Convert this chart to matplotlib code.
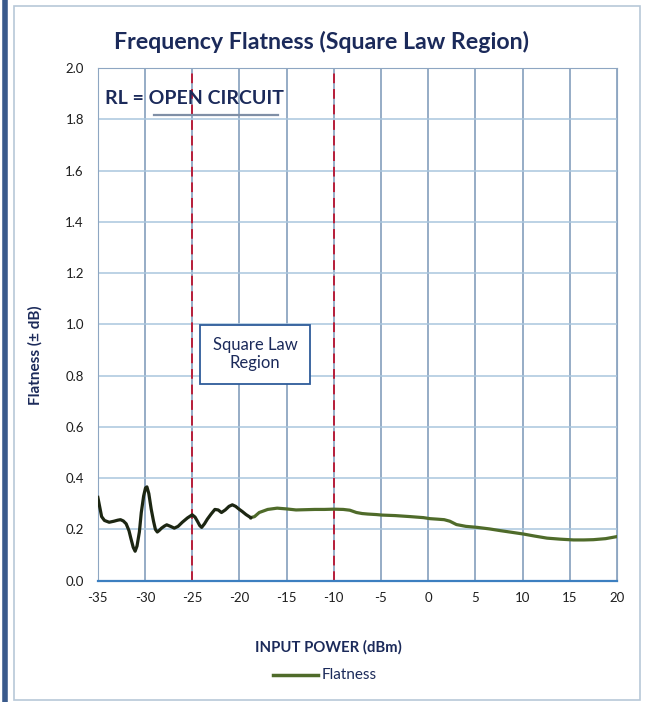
import matplotlib
matplotlib.use('Agg')
from matplotlib import pyplot as plt
from matplotlib.patches import Rectangle
from matplotlib.lines import Line2D

plt.rcParams['font.family'] = ['Lato', 'DejaVu Sans']

# 数据：点
input_power = [-35.0, -34.6, -34.3, -33.8, -33.3, -32.9, -32.6, -32.3, -32.0, -31.7, -31.5,
               -31.25, -31.05, -30.85, -30.6, -30.4, -30.15, -29.95, -29.8, -29.6, -29.35,
               -29.1, -28.9, -28.7, -28.5, -28.25, -27.95, -27.7, -27.3, -26.9, -26.5,
               -26.05, -25.5, -25.0, -24.7, -24.45, -24.2, -24.0, -23.7, -23.4, -23.0,
               -22.6, -22.25, -21.9, -21.5, -21.1, -20.75, -20.4, -20.0, -19.7, -19.3,
               -18.8, -18.4, -17.9, -17.0, -16.0, -15.0, -14.0, -13.0, -12.0, -11.0,
               -10.0, -9.0, -8.3, -7.6, -7.0, -6.4, -5.5, -4.9, -3.5, -1.9, -0.5, 0.2,
               1.0, 1.7, 2.3, 3.0, 4.0, 5.2, 6.5, 7.7, 9.0, 10.1, 11.3, 12.6, 14.0,
               15.4, 16.5, 17.5, 18.8, 20.0]
flatness = [0.325, 0.25, 0.235, 0.228, 0.232, 0.236, 0.238, 0.233, 0.222, 0.195, 0.165,
            0.13, 0.115, 0.135, 0.19, 0.265, 0.33, 0.362, 0.366, 0.34, 0.28,
            0.232, 0.2, 0.19, 0.196, 0.205, 0.213, 0.218, 0.212, 0.205, 0.212,
            0.228, 0.245, 0.257, 0.248, 0.232, 0.215, 0.208, 0.222, 0.24, 0.26,
            0.278, 0.276, 0.266, 0.276, 0.29, 0.296, 0.29, 0.278, 0.27, 0.258,
            0.246, 0.25, 0.266, 0.278, 0.283, 0.28, 0.276, 0.277, 0.278, 0.278,
            0.279, 0.278, 0.275, 0.266, 0.262, 0.26, 0.258, 0.256, 0.254, 0.25, 0.246, 0.242,
            0.24, 0.238, 0.232, 0.219, 0.212, 0.208, 0.202, 0.195, 0.188, 0.182, 0.174, 0.166, 0.162,
            0.159, 0.159, 0.16, 0.164, 0.172]

x_ticks = [-35, -30, -25, -20, -15, -10, -5, 0, 5, 10, 15, 20]
y_ticks = [0.0, 0.2, 0.4, 0.6, 0.8, 1.0, 1.2, 1.4, 1.6, 1.8, 2.0]
region_edges = [-25, -10]
split_at = -18.8

navy = '#1b2a5a'
olive = '#4f6b2a'

fig = plt.figure(figsize=(6.48, 7.02), dpi=100)
ax = fig.add_axes([0.151, 0.1728, 0.801, 0.7303])

# 网格
for xv in x_ticks:
    ax.axvline(xv, color='#8ea6c2', lw=1.3, zorder=1)
for yv in y_ticks:
    ax.axhline(yv, color='#a9c6de', lw=1.1, zorder=1)

# 平方律区域边界
for xv in region_edges:
    ax.axvline(xv, color='#b81e3a', lw=1.4, ls=(0, (5, 3)), zorder=2)

# 曲线：左边一段颜色更深
n = sum(1 for v in input_power if v <= split_at)
ax.plot(input_power[n - 1:], flatness[n - 1:], color=olive, lw=2.3, zorder=4)
ax.plot(input_power[:n], flatness[:n], color='#1c2612', lw=2.3, zorder=4)

ax.set_xlim(-35, 20)
ax.set_ylim(0, 2.0)
ax.set_xticks(x_ticks)
ax.set_yticks(y_ticks)
ax.set_xticklabels([str(v) for v in x_ticks])
ax.set_yticklabels(['%.1f' % v for v in y_ticks])
ax.tick_params(axis='x', length=0, pad=8.5, labelsize=9.5, labelcolor='#1e1e1e')
ax.tick_params(axis='y', length=0, pad=10, labelsize=9.5, labelcolor='#1e1e1e')
for s in ['top', 'right', 'left']:
    ax.spines[s].set_color('#8ea6c2')
ax.spines['bottom'].set_color('#3c7fc0')
ax.spines['bottom'].set_linewidth(1.6)

# 标注
ax.text(-34.2, 1.88, 'RL = OPEN CIRCUIT', fontsize=14, fontweight='bold', color=navy,
        va='center', ha='left', zorder=5)
ax.plot([-29.1, -15.9], [1.815, 1.815], color='#7f8fa6', lw=1.6, zorder=5)

box = Rectangle((-24.2, 0.768), 11.7, 0.23, facecolor='white', edgecolor='#2e5c9a', lw=1.3, zorder=5)
ax.add_patch(box)
ax.text(-18.35, 0.883, 'Square Law\nRegion', fontsize=12, color=navy, ha='center', va='center',
        linespacing=1.15, zorder=6)

fig.text(322 / 648, 1 - 42 / 702, 'Frequency Flatness (Square Law Region)', fontsize=16.7,
         fontweight='bold', color=navy, ha='center', va='center')
fig.text(35 / 648, 1 - 355 / 702, 'Flatness (± dB)', fontsize=11, fontweight='bold', color=navy,
         rotation=90, ha='center', va='center')
fig.text(328 / 648, 1 - 647 / 702, 'INPUT POWER (dBm)', fontsize=10.7, fontweight='bold', color=navy,
         ha='center', va='center')

# 图例
fig.add_artist(Line2D([273 / 648, 318 / 648], [1 - 675 / 702, 1 - 675 / 702], color=olive, lw=2.5))
fig.text(322 / 648, 1 - 675 / 702, 'Flatness', fontsize=11, color=navy, ha='left', va='center')

# 外框
fig.add_artist(Rectangle((14 / 648, 2 / 702), 626 / 648, 694 / 702, transform=fig.transFigure,
                         fill=False, edgecolor='#b8c8d8', lw=1.2))
fig.add_artist(Line2D([5 / 648, 5 / 648], [0, 1], color='#3a5a8c', lw=4))

fig.savefig('out.png', dpi=100)
